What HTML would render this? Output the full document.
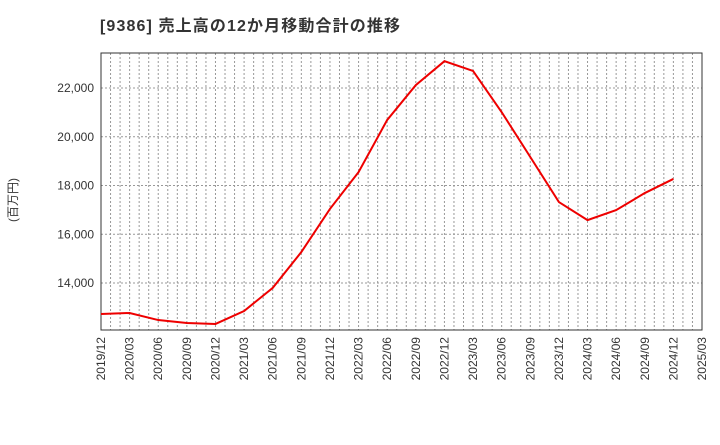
<!DOCTYPE html>
<html><head><meta charset="utf-8"><style>
body{margin:0;background:#fff;width:720px;height:440px;overflow:hidden}
text{font-family:"Liberation Sans","Noto Sans CJK JP",sans-serif}
</style></head><body>
<svg id="c" width="720" height="440">
<text x="100" y="31" font-size="16" font-weight="bold" fill="#333" textLength="300" lengthAdjust="spacing">[9386]  売上高の12か月移動合計の推移</text>
<text transform="translate(17,200) rotate(-90)" font-size="12" fill="#333" text-anchor="middle">(百万円)</text>
</svg>
<script>
const labels=["2019/12","2020/03","2020/06","2020/09","2020/12","2021/03","2021/06","2021/09","2021/12","2022/03","2022/06","2022/09","2022/12","2023/03","2023/06","2023/09","2023/12","2024/03","2024/06","2024/09","2024/12","2025/03"];
const values=[12730,12770,12480,12360,12320,12850,13800,15270,17040,18550,20690,22120,23100,22700,21010,19170,17320,16580,16990,17690,18270];
const yTicks=[14000,16000,18000,20000,22000];
const svg=document.getElementById('c');const NS="http://www.w3.org/2000/svg";
const L=101,R=702,T=53,B=330;
const xs=i=>L+i*(R-L)/(labels.length-1);
const ys=v=>283-(v-14000)*48.75/2000;
function mk(t,a,p){const e=document.createElementNS(NS,t);for(const k in a)e.setAttribute(k,a[k]);(p||svg).appendChild(e);return e;}
for(let m=1;m<(labels.length-1)*3;m++){const x=L+m*(R-L)/((labels.length-1)*3);
const g=mk('line',{x1:x,x2:x,y1:T,y2:B,stroke:'#999','stroke-dasharray':'2,2','stroke-width':1});

}
yTicks.forEach(v=>{const y=ys(v);
const g=mk('line',{x1:L,x2:R,y1:y,y2:y,stroke:'#999','stroke-dasharray':'2,2'});


const t=mk('text',{x:L-7,y:y+4,'font-size':12,'text-anchor':'end',fill:'#333'});t.textContent=v.toLocaleString('en-US');

});
labels.forEach((s,i)=>{const x=xs(i);
const t=mk('text',{transform:`translate(${x+4},${B+7}) rotate(-90)`,'font-size':12,'text-anchor':'end',fill:'#333'});t.textContent=s;

});
const f=mk('rect',{x:L,y:T,width:R-L,height:B-T,fill:'none',stroke:'#333','stroke-width':1});


const p=mk('polyline',{points:values.map((v,i)=>xs(i)+','+ys(v)).join(' '),fill:'none',stroke:'#e00','stroke-width':2});


</script>
</body></html>
